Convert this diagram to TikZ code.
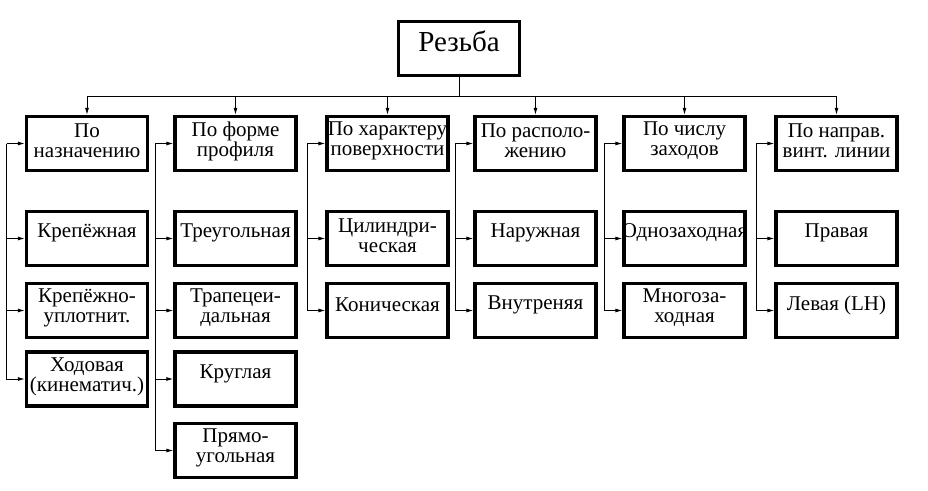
\documentclass[tikz,border=0pt]{standalone}
\usepackage{fontspec}
\setmainfont{Liberation Serif}
\usetikzlibrary{arrows.meta}
\tikzset{
  box/.style={draw, line width=3.2pt, minimum width=121pt, minimum height=54pt, inner sep=0pt},
  txt/.style={align=center, font=\fontsize{21}{20}\selectfont, yshift=2.5pt},
  one/.style={txt, yshift=3pt},
  arr/.style={-{Latex[length=7pt,width=4pt]}},
}
\begin{document}
\begin{tikzpicture}[x=1pt, y=-1pt, line width=1pt]
  \useasboundingbox (0,0) rectangle (928,490);

  % boxes
  \node[box, label={[one, font=\fontsize{29}{29}\selectfont, yshift=2pt]center:Резьба}] (root) at (459,48.5) {};

  \node[box, label={[txt]center:По\\назначению}] (n11) at (87,143.5) {};
  \node[box, label={[one]center:Крепёжная}] (n12) at (87,238.5) {};
  \node[box, label={[txt]center:Крепёжно-\\уплотнит.}] (n13) at (87,310.5) {};
  \node[box, label={[txt]center:Ходовая\\(кинематич.)}] (n14) at (87,379) {};

  \node[box, label={[txt]center:По форме\\профиля}] (n21) at (235.5,143.5) {};
  \node[box, label={[one]center:Треугольная}] (n22) at (235.5,238.5) {};
  \node[box, label={[txt]center:Трапецеи-\\дальная}] (n23) at (235.5,310.5) {};
  \node[box, label={[one]center:Круглая}] (n24) at (235.5,379) {};
  \node[box, label={[txt]center:Прямо-\\угольная}] (n25) at (235.5,450.5) {};

  \node[box, label={[txt]center:По характеру\\поверхности}] (n31) at (387.5,143.5) {};
  \node[box, label={[txt]center:Цилиндри-\\ческая}] (n32) at (387.5,238.5) {};
  \node[box, label={[one]center:Коническая}] (n33) at (387.5,310.5) {};

  \node[box, label={[txt]center:По располо-\\жению}] (n41) at (535.5,143.5) {};
  \node[box, label={[one]center:Наружная}] (n42) at (535.5,238.5) {};
  \node[box, label={[one]center:Внутреняя}] (n43) at (535.5,310.5) {};

  \node[box, label={[txt]center:По числу\\заходов}] (n51) at (684.5,143.5) {};
  \node[box, label={[one]center:Однозаходная}] (n52) at (684.5,238.5) {};
  \node[box, label={[txt]center:Многоза-\\ходная}] (n53) at (684.5,310.5) {};

  \node[box, label={[txt]center:По направ.\\винт. линии}] (n61) at (836.5,143.5) {};
  \node[box, label={[one]center:Правая}] (n62) at (836.5,238.5) {};
  \node[box, label={[one]center:Левая (LH)}] (n63) at (836.5,310.5) {};

  % lines
  \coordinate (bus) at (459,96);
  \draw (root.south) -- (bus);
  \draw (bus -| n11) -- (bus -| n61);
  \foreach \c in {1,...,6}
    \draw[arr] (bus -| n\c1) -- (n\c1.north);
  \foreach \c/\n in {1/4,2/5,3/3,4/3,5/3,6/3}
    \foreach \r in {1,...,\n}
      \draw[arr] ([xshift=-18pt]n\c1.west) |- (n\c\r.west);
\end{tikzpicture}
\end{document}
